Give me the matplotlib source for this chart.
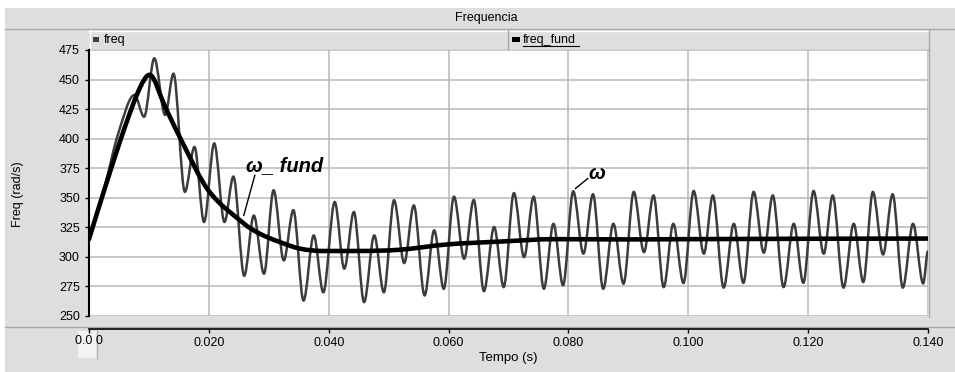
import numpy as np
import matplotlib.pyplot as plt
from matplotlib.patches import Rectangle, PathPatch
from matplotlib.path import Path

plt.rcParams['font.family'] = ['Liberation Sans', 'DejaVu Sans']

# omega (freq): extrema, time in s, value in rad/s
t_freq = [0.0, 0.0027, 0.0048, 0.0076, 0.0092, 0.0109, 0.0127, 0.0141,
          0.0160, 0.0176, 0.0192, 0.0209, 0.0226, 0.0241, 0.0259, 0.0275, 0.0292,
          0.0308, 0.0325, 0.0341, 0.0358, 0.0375, 0.0391, 0.0410, 0.0426, 0.0442,
          0.0459, 0.0476, 0.0492, 0.0509, 0.0526, 0.0542, 0.0560, 0.0576, 0.0592,
          0.0609, 0.0626, 0.0642, 0.0659, 0.0676, 0.0692, 0.0709, 0.0726, 0.0742,
          0.0759, 0.0775, 0.0791, 0.0808, 0.0825, 0.0841, 0.0858, 0.0875, 0.0892,
          0.0909, 0.0926, 0.0942, 0.0959, 0.0975, 0.0992, 0.1009, 0.1026, 0.1041,
          0.1059, 0.1076, 0.1092, 0.1109, 0.1126, 0.1141, 0.1159, 0.1176, 0.1192,
          0.1209, 0.1226, 0.1241, 0.1259, 0.1276, 0.1292, 0.1308, 0.1325, 0.1341,
          0.1358, 0.1375, 0.1392, 0.1400]
freq = [315, 361, 403, 437, 418.5, 468, 420, 455,
        355, 393, 329.5, 396, 329.5, 368, 284, 335, 285.7,
        356.4, 297, 339.6, 263, 318.2, 270, 346.5, 290, 338,
        261.7, 318.2, 270, 348, 294.8, 343.6, 267.4, 322.5, 273,
        351, 298.4, 348.2, 271, 325.3, 274.4, 354, 299.8, 351,
        273, 328, 276, 355.5, 302.7, 353, 273, 328, 277.3,
        355, 304, 352, 274.4, 328, 277.8, 355.8, 302.7, 352,
        274, 328, 278, 355, 303.5, 352, 274.4, 328, 278,
        355.8, 302.7, 352, 274, 328, 278.7, 355, 302, 353,
        274, 328, 277.5, 305]

# omega_fund
t_fund = [0.0, 0.0027, 0.0060, 0.0085, 0.0101, 0.0127, 0.0154, 0.0199, 0.0259,
          0.0285, 0.0318, 0.0352, 0.0390, 0.0446, 0.0517, 0.0599, 0.0688, 0.0776,
          0.0900, 0.1000, 0.1400]
freq_fund = [315, 359, 410, 443, 454, 427, 398.7, 356.4, 328,
             319.6, 312.6, 307, 305, 305, 306, 310.6, 313, 315,
             314.8, 315, 315.5]

x_ticks = [0.0, 0.02, 0.04, 0.06, 0.08, 0.10, 0.12, 0.14]
x_labels = ['', '0.020', '0.040', '0.060', '0.080', '0.100', '0.120', '0.140']
y_ticks = [250, 275, 300, 325, 350, 375, 400, 425, 450, 475]

W, H = 955, 372
BG = '#dedede'
EDGE = '#a8a8a8'


def smooth_path(x, y):
    # cubic path through the points, flat tangent at each peak/trough
    x = np.asarray(x, float)
    y = np.asarray(y, float)
    n = len(x)
    m = np.zeros(n)
    for i in range(1, n - 1):
        if (y[i] - y[i - 1]) * (y[i + 1] - y[i]) > 0:
            m[i] = (y[i + 1] - y[i - 1]) / (x[i + 1] - x[i - 1])
    m[0] = (y[1] - y[0]) / (x[1] - x[0])
    verts = [(x[0], y[0])]
    codes = [Path.MOVETO]
    for i in range(n - 1):
        d = (x[i + 1] - x[i]) / 3
        verts += [(x[i] + d, y[i] + m[i] * d), (x[i + 1] - d, y[i + 1] - m[i + 1] * d),
                  (x[i + 1], y[i + 1])]
        codes += [Path.CURVE4] * 3
    return Path(verts, codes)


fig = plt.figure(figsize=(W / 100, H / 100), dpi=100)
fig.patch.set_facecolor('white')

# frame drawn in pixel coordinates
bg = fig.add_axes([0, 0, 1, 1], zorder=0)
bg.set_xlim(0, W)
bg.set_ylim(H, 0)
bg.axis('off')
bg.add_patch(Rectangle((5, 8), W - 5, H - 8, facecolor=BG, edgecolor='none'))
bg.plot([5, W], [28.5, 28.5], color=EDGE, lw=1)
bg.plot([89, 928], [30.5, 30.5], color='white', lw=1)
bg.plot([89.5, 89.5], [30, 50], color='white', lw=1)
bg.plot([508, 508], [30, 50], color=EDGE, lw=1)
bg.plot([928.5, 928.5], [30, 317], color=EDGE, lw=1)
bg.plot([89, 928], [50, 50], color=EDGE, lw=1)
bg.plot([5, W], [326.5, 326.5], color=EDGE, lw=1)
bg.text(486, 18.5, 'Frequencia', ha='center', va='center', fontsize=9)
bg.add_patch(Rectangle((93, 37), 6, 5, facecolor='#404040', edgecolor='none'))
bg.text(104, 40, 'freq', ha='left', va='center', fontsize=9)
bg.add_patch(Rectangle((512, 37), 8, 5, facecolor='black', edgecolor='none'))
bg.text(523, 40, 'freq_fund', ha='left', va='center', fontsize=9)
bg.plot([523, 579], [46, 46], color='black', lw=0.8)
bg.text(17.5, 194, 'Freq (rad/s)', ha='center', va='center', rotation=90, fontsize=9)
bg.text(508, 358, 'Tempo (s)', ha='center', va='center', fontsize=9.5)

# cursor marker over the first tick label
bg.add_patch(Rectangle((78, 331), 19, 27, facecolor='#f3f3f3', edgecolor='none', zorder=5))
bg.plot([96.5, 96.5], [331, 358], color='#b0b0b0', lw=1, zorder=6)
bg.text(89, 341.5, '0.0 0', ha='center', va='center', fontsize=9, zorder=7)

ax = fig.add_axes([89 / W, (H - 316) / H, 839 / W, 266 / H], zorder=1)
ax.set_facecolor('white')
ax.add_patch(PathPatch(smooth_path(t_freq, freq), facecolor='none', edgecolor='#3c3c3c',
                       lw=1.8, joinstyle='round'))
ax.add_patch(PathPatch(smooth_path(t_fund, freq_fund), facecolor='none', edgecolor='black',
                       lw=3.3, joinstyle='round', capstyle='round'))

ax.set_xlim(0, 0.14)
ax.set_ylim(250, 475)
ax.set_xticks(x_ticks)
ax.set_xticklabels(x_labels)
ax.set_yticks(y_ticks)
ax.grid(True, color='#b8b8b8', lw=1.1)
ax.set_axisbelow(True)
for s in ['top', 'right']:
    ax.spines[s].set_visible(False)
ax.spines['left'].set_linewidth(1.5)
ax.spines['bottom'].set_position(('outward', 9.4))
ax.spines['bottom'].set_linewidth(1.2)
ax.tick_params(axis='both', direction='out', length=3, width=1, labelsize=9, colors='black')
ax.tick_params(axis='y', pad=3.6)
ax.tick_params(axis='x', pad=2.5)

# annotations
ax.text(0.0262, 377.5, 'ω_ fund', fontsize=14.5, fontweight='bold', fontstyle='italic',
        ha='left', va='center')
ax.plot([0.02767, 0.02583], [369, 335.2], color='black', lw=1)
ax.text(0.0834, 370.3, 'ω', fontsize=14.5, fontweight='bold', fontstyle='italic',
        ha='left', va='center')
ax.plot([0.08322, 0.08117], [366.3, 357.8], color='black', lw=1)

fig.savefig('out.png', dpi=100)
